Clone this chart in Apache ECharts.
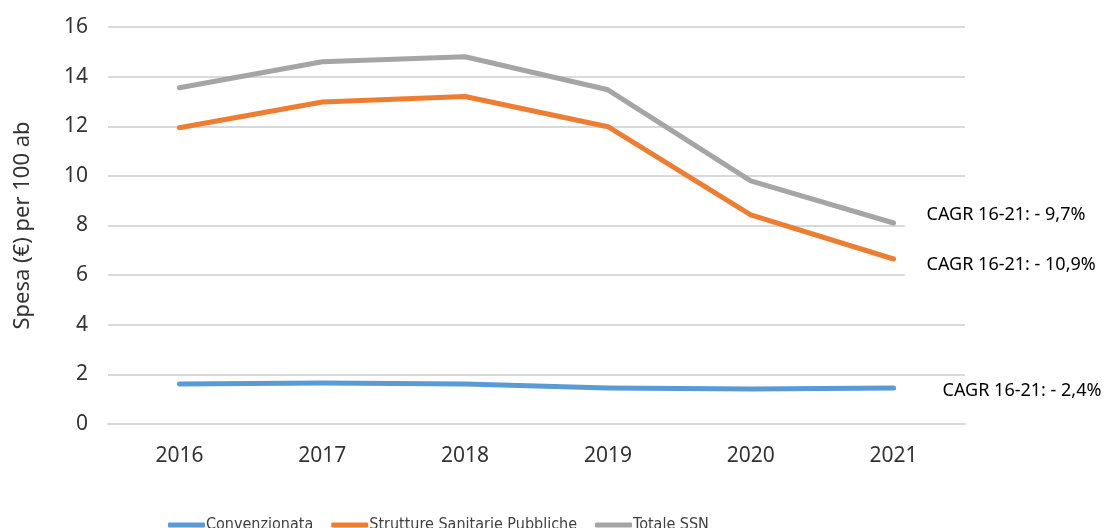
<!DOCTYPE html>
<html>
<head>
<meta charset="utf-8">
<script src="https://cdn.jsdelivr.net/npm/echarts@6/dist/echarts.min.js"></script>
<style>
html,body{margin:0;padding:0;background:#fff;}
#chart{width:1109px;height:528px;}
</style>
</head>
<body>
<div id="chart"></div>
<script>
// dati
var anni = ['2016', '2017', '2018', '2019', '2020', '2021'];
var convenzionata = [1.61, 1.65, 1.61, 1.45, 1.41, 1.45];
var strutture = [11.94, 12.98, 13.2, 11.98, 8.43, 6.65];
var totale = [13.55, 14.6, 14.8, 13.47, 9.8, 8.1];
var cagr = {conv: 'CAGR 16-21: - 2,4%', strut: 'CAGR 16-21: - 10,9%', tot: 'CAGR 16-21: - 9,7%'};

var font = 'Noto Sans';
var myChart = echarts.init(document.getElementById('chart'));

function etichetta(testo, off, padLeft) {
    return {
        show: true,
        formatter: testo,
        distance: 5,
        offset: off,
        color: '#000',
        fontFamily: font,
        fontSize: 18,
        backgroundColor: '#fff',
        padding: [3, 4, 3, padLeft]
    };
}

myChart.setOption({
    animation: false,
    grid: {left: 108, right: 144, top: 27, bottom: 104},
    legend: {
        top: 512,
        left: 163,
        icon: 'roundRect',
        itemWidth: 37,
        itemHeight: 5,
        itemGap: 18,
        textStyle: {fontFamily: "'DejaVu Sans Condensed', 'Noto Sans'", fontSize: 16, color: '#404040', padding: [0, 0, 0, -4]},
        data: ['Convenzionata', 'Strutture Sanitarie Pubbliche', 'Totale SSN']
    },
    xAxis: {
        type: 'category',
        data: anni,
        axisTick: {show: false},
        axisLine: {lineStyle: {color: '#d9d9d9', width: 2}},
        axisLabel: {fontFamily: font, fontSize: 21, color: '#333', margin: 22}
    },
    yAxis: {
        type: 'value',
        min: 0,
        max: 16,
        interval: 2,
        name: 'Spesa (€) per 100 ab',
        nameLocation: 'middle',
        nameGap: 74,
        nameTextStyle: {fontFamily: font, fontSize: 22, color: '#333'},
        axisLabel: {fontFamily: font, fontSize: 21, color: '#333', margin: 20},
        splitLine: {lineStyle: {color: '#d9d9d9', width: 2}}
    },
    series: [
        {
            name: 'Convenzionata',
            type: 'line',
            data: convenzionata,
            symbol: 'none',
            color: '#5b9bd5',
            lineStyle: {width: 5, cap: 'round', join: 'round'},
            endLabel: etichetta(cagr.conv, [22, 3], 22),
            z: 3
        },
        {
            name: 'Strutture Sanitarie Pubbliche',
            type: 'line',
            data: strutture,
            symbol: 'none',
            color: '#ed7d31',
            lineStyle: {width: 5, cap: 'round', join: 'round'},
            endLabel: etichetta(cagr.strut, [6, 6], 22),
            z: 4
        },
        {
            name: 'Totale SSN',
            type: 'line',
            data: totale,
            symbol: 'none',
            color: '#a5a5a5',
            lineStyle: {width: 5, cap: 'round', join: 'round'},
            endLabel: etichetta(cagr.tot, [6, -8], 22),
            z: 5
        }
    ]
});
</script>
</body>
</html>
